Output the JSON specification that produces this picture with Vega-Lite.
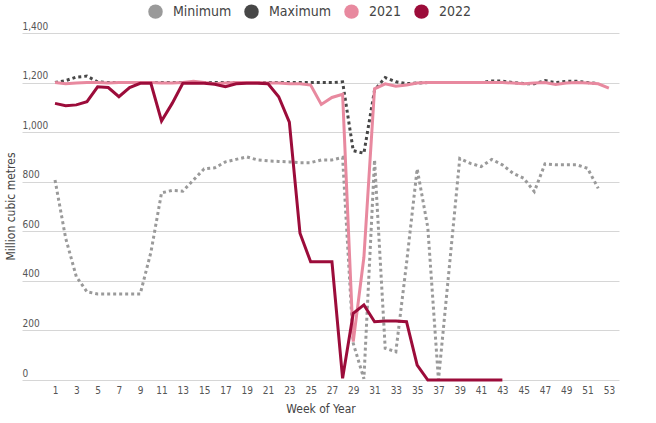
{
  "$schema": "https://vega.github.io/schema/vega-lite/v6.json",
  "width": 597,
  "height": 347,
  "autosize": {"type": "none"},
  "padding": {"left": 22, "top": 33, "right": 37, "bottom": 43},
  "background": "#ffffff",
  "config": {
    "view": {"stroke": null},
    "font": "Liberation Sans Narrow, DejaVu Sans Condensed, Roboto, sans-serif"
  },
  "data": {
    "values": [
      {"week": 1, "series": "Minimum", "value": 807},
      {"week": 2, "series": "Minimum", "value": 572},
      {"week": 3, "series": "Minimum", "value": 417},
      {"week": 4, "series": "Minimum", "value": 356},
      {"week": 5, "series": "Minimum", "value": 347},
      {"week": 6, "series": "Minimum", "value": 347},
      {"week": 7, "series": "Minimum", "value": 347},
      {"week": 8, "series": "Minimum", "value": 347},
      {"week": 9, "series": "Minimum", "value": 347},
      {"week": 10, "series": "Minimum", "value": 515},
      {"week": 11, "series": "Minimum", "value": 755},
      {"week": 12, "series": "Minimum", "value": 765},
      {"week": 13, "series": "Minimum", "value": 762},
      {"week": 14, "series": "Minimum", "value": 807},
      {"week": 15, "series": "Minimum", "value": 852},
      {"week": 16, "series": "Minimum", "value": 856},
      {"week": 17, "series": "Minimum", "value": 880},
      {"week": 18, "series": "Minimum", "value": 890},
      {"week": 19, "series": "Minimum", "value": 900},
      {"week": 20, "series": "Minimum", "value": 888},
      {"week": 21, "series": "Minimum", "value": 884},
      {"week": 22, "series": "Minimum", "value": 882},
      {"week": 23, "series": "Minimum", "value": 880},
      {"week": 24, "series": "Minimum", "value": 877},
      {"week": 25, "series": "Minimum", "value": 877},
      {"week": 26, "series": "Minimum", "value": 888},
      {"week": 27, "series": "Minimum", "value": 888},
      {"week": 28, "series": "Minimum", "value": 898},
      {"week": 29, "series": "Minimum", "value": 148},
      {"week": 30, "series": "Minimum", "value": 5},
      {"week": 31, "series": "Minimum", "value": 888},
      {"week": 32, "series": "Minimum", "value": 128},
      {"week": 33, "series": "Minimum", "value": 114},
      {"week": 34, "series": "Minimum", "value": 470},
      {"week": 35, "series": "Minimum", "value": 852},
      {"week": 36, "series": "Minimum", "value": 615},
      {"week": 37, "series": "Minimum", "value": 0},
      {"week": 38, "series": "Minimum", "value": 447},
      {"week": 39, "series": "Minimum", "value": 894},
      {"week": 40, "series": "Minimum", "value": 874},
      {"week": 41, "series": "Minimum", "value": 861},
      {"week": 42, "series": "Minimum", "value": 890},
      {"week": 43, "series": "Minimum", "value": 868},
      {"week": 44, "series": "Minimum", "value": 834},
      {"week": 45, "series": "Minimum", "value": 814},
      {"week": 46, "series": "Minimum", "value": 760},
      {"week": 47, "series": "Minimum", "value": 872},
      {"week": 48, "series": "Minimum", "value": 868},
      {"week": 49, "series": "Minimum", "value": 868},
      {"week": 50, "series": "Minimum", "value": 868},
      {"week": 51, "series": "Minimum", "value": 854},
      {"week": 52, "series": "Minimum", "value": 773},

      {"week": 1, "series": "Maximum", "value": 1200},
      {"week": 2, "series": "Maximum", "value": 1208},
      {"week": 3, "series": "Maximum", "value": 1222},
      {"week": 4, "series": "Maximum", "value": 1226},
      {"week": 5, "series": "Maximum", "value": 1203},
      {"week": 6, "series": "Maximum", "value": 1200},
      {"week": 7, "series": "Maximum", "value": 1200},
      {"week": 8, "series": "Maximum", "value": 1200},
      {"week": 9, "series": "Maximum", "value": 1200},
      {"week": 10, "series": "Maximum", "value": 1200},
      {"week": 11, "series": "Maximum", "value": 1200},
      {"week": 12, "series": "Maximum", "value": 1200},
      {"week": 13, "series": "Maximum", "value": 1200},
      {"week": 14, "series": "Maximum", "value": 1200},
      {"week": 15, "series": "Maximum", "value": 1200},
      {"week": 16, "series": "Maximum", "value": 1200},
      {"week": 17, "series": "Maximum", "value": 1200},
      {"week": 18, "series": "Maximum", "value": 1200},
      {"week": 19, "series": "Maximum", "value": 1200},
      {"week": 20, "series": "Maximum", "value": 1200},
      {"week": 21, "series": "Maximum", "value": 1200},
      {"week": 22, "series": "Maximum", "value": 1200},
      {"week": 23, "series": "Maximum", "value": 1200},
      {"week": 24, "series": "Maximum", "value": 1200},
      {"week": 25, "series": "Maximum", "value": 1200},
      {"week": 26, "series": "Maximum", "value": 1200},
      {"week": 27, "series": "Maximum", "value": 1200},
      {"week": 28, "series": "Maximum", "value": 1203},
      {"week": 29, "series": "Maximum", "value": 925},
      {"week": 30, "series": "Maximum", "value": 915},
      {"week": 31, "series": "Maximum", "value": 1170},
      {"week": 32, "series": "Maximum", "value": 1220},
      {"week": 33, "series": "Maximum", "value": 1203},
      {"week": 34, "series": "Maximum", "value": 1196},
      {"week": 35, "series": "Maximum", "value": 1198},
      {"week": 36, "series": "Maximum", "value": 1200},
      {"week": 37, "series": "Maximum", "value": 1200},
      {"week": 38, "series": "Maximum", "value": 1200},
      {"week": 39, "series": "Maximum", "value": 1200},
      {"week": 40, "series": "Maximum", "value": 1200},
      {"week": 41, "series": "Maximum", "value": 1200},
      {"week": 42, "series": "Maximum", "value": 1206},
      {"week": 43, "series": "Maximum", "value": 1206},
      {"week": 44, "series": "Maximum", "value": 1200},
      {"week": 45, "series": "Maximum", "value": 1196},
      {"week": 46, "series": "Maximum", "value": 1195},
      {"week": 47, "series": "Maximum", "value": 1208},
      {"week": 48, "series": "Maximum", "value": 1200},
      {"week": 49, "series": "Maximum", "value": 1205},
      {"week": 50, "series": "Maximum", "value": 1205},
      {"week": 51, "series": "Maximum", "value": 1200},
      {"week": 52, "series": "Maximum", "value": 1196},

      {"week": 1, "series": "2021", "value": 1200},
      {"week": 2, "series": "2021", "value": 1195},
      {"week": 3, "series": "2021", "value": 1198},
      {"week": 4, "series": "2021", "value": 1200},
      {"week": 5, "series": "2021", "value": 1200},
      {"week": 6, "series": "2021", "value": 1198},
      {"week": 7, "series": "2021", "value": 1200},
      {"week": 8, "series": "2021", "value": 1200},
      {"week": 9, "series": "2021", "value": 1200},
      {"week": 10, "series": "2021", "value": 1200},
      {"week": 11, "series": "2021", "value": 1198},
      {"week": 12, "series": "2021", "value": 1198},
      {"week": 13, "series": "2021", "value": 1200},
      {"week": 14, "series": "2021", "value": 1205},
      {"week": 15, "series": "2021", "value": 1200},
      {"week": 16, "series": "2021", "value": 1195},
      {"week": 17, "series": "2021", "value": 1198},
      {"week": 18, "series": "2021", "value": 1200},
      {"week": 19, "series": "2021", "value": 1200},
      {"week": 20, "series": "2021", "value": 1200},
      {"week": 21, "series": "2021", "value": 1198},
      {"week": 22, "series": "2021", "value": 1198},
      {"week": 23, "series": "2021", "value": 1195},
      {"week": 24, "series": "2021", "value": 1195},
      {"week": 25, "series": "2021", "value": 1190},
      {"week": 26, "series": "2021", "value": 1112},
      {"week": 27, "series": "2021", "value": 1140},
      {"week": 28, "series": "2021", "value": 1153},
      {"week": 29, "series": "2021", "value": 155},
      {"week": 30, "series": "2021", "value": 495},
      {"week": 31, "series": "2021", "value": 1175},
      {"week": 32, "series": "2021", "value": 1195},
      {"week": 33, "series": "2021", "value": 1185},
      {"week": 34, "series": "2021", "value": 1190},
      {"week": 35, "series": "2021", "value": 1198},
      {"week": 36, "series": "2021", "value": 1200},
      {"week": 37, "series": "2021", "value": 1200},
      {"week": 38, "series": "2021", "value": 1200},
      {"week": 39, "series": "2021", "value": 1200},
      {"week": 40, "series": "2021", "value": 1200},
      {"week": 41, "series": "2021", "value": 1200},
      {"week": 42, "series": "2021", "value": 1200},
      {"week": 43, "series": "2021", "value": 1200},
      {"week": 44, "series": "2021", "value": 1198},
      {"week": 45, "series": "2021", "value": 1195},
      {"week": 46, "series": "2021", "value": 1198},
      {"week": 47, "series": "2021", "value": 1200},
      {"week": 48, "series": "2021", "value": 1192},
      {"week": 49, "series": "2021", "value": 1198},
      {"week": 50, "series": "2021", "value": 1200},
      {"week": 51, "series": "2021", "value": 1198},
      {"week": 52, "series": "2021", "value": 1195},
      {"week": 53, "series": "2021", "value": 1178},

      {"week": 1, "series": "2022", "value": 1116},
      {"week": 2, "series": "2022", "value": 1107},
      {"week": 3, "series": "2022", "value": 1110},
      {"week": 4, "series": "2022", "value": 1123},
      {"week": 5, "series": "2022", "value": 1183},
      {"week": 6, "series": "2022", "value": 1180},
      {"week": 7, "series": "2022", "value": 1143},
      {"week": 8, "series": "2022", "value": 1180},
      {"week": 9, "series": "2022", "value": 1197},
      {"week": 10, "series": "2022", "value": 1197},
      {"week": 11, "series": "2022", "value": 1045},
      {"week": 12, "series": "2022", "value": 1116},
      {"week": 13, "series": "2022", "value": 1197},
      {"week": 14, "series": "2022", "value": 1197},
      {"week": 15, "series": "2022", "value": 1197},
      {"week": 16, "series": "2022", "value": 1193},
      {"week": 17, "series": "2022", "value": 1183},
      {"week": 18, "series": "2022", "value": 1195},
      {"week": 19, "series": "2022", "value": 1197},
      {"week": 20, "series": "2022", "value": 1197},
      {"week": 21, "series": "2022", "value": 1195},
      {"week": 22, "series": "2022", "value": 1143},
      {"week": 23, "series": "2022", "value": 1040},
      {"week": 24, "series": "2022", "value": 592},
      {"week": 25, "series": "2022", "value": 477},
      {"week": 26, "series": "2022", "value": 477},
      {"week": 27, "series": "2022", "value": 477},
      {"week": 28, "series": "2022", "value": 7},
      {"week": 29, "series": "2022", "value": 269},
      {"week": 30, "series": "2022", "value": 303},
      {"week": 31, "series": "2022", "value": 235},
      {"week": 32, "series": "2022", "value": 238},
      {"week": 33, "series": "2022", "value": 238},
      {"week": 34, "series": "2022", "value": 235},
      {"week": 35, "series": "2022", "value": 60},
      {"week": 36, "series": "2022", "value": 0},
      {"week": 37, "series": "2022", "value": 0},
      {"week": 38, "series": "2022", "value": 0},
      {"week": 39, "series": "2022", "value": 0},
      {"week": 40, "series": "2022", "value": 0},
      {"week": 41, "series": "2022", "value": 0},
      {"week": 42, "series": "2022", "value": 0},
      {"week": 43, "series": "2022", "value": 0}
    ]
  },
  "encoding": {
    "x": {
      "field": "week", "type": "quantitative", "title": "Week of Year",
      "scale": {"domain": [-2.1, 53.95], "nice": false, "zero": false},
      "axis": {
        "values": [1, 3, 5, 7, 9, 11, 13, 15, 17, 19, 21, 23, 25, 27, 29, 31, 33, 35, 37, 39, 41, 43, 45, 47, 49, 51, 53],
        "grid": false, "domain": false, "ticks": false, "labelPadding": 5,
        "labelFontSize": 10, "labelColor": "#555555", "labelOverlap": false,
        "titleFontSize": 12, "titleColor": "#444444", "titleFontWeight": "normal",
        "titleY": 28, "titleBaseline": "middle"
      }
    },
    "y": {
      "field": "value", "type": "quantitative", "title": "Million cubic metres",
      "scale": {"domain": [0, 1400], "nice": false},
      "axis": {
        "values": [0, 200, 400, 600, 800, 1000, 1200, 1400], "format": ",d",
        "grid": true, "gridColor": "#d6d6d6", "gridWidth": 1,
        "domain": false, "ticks": false, "tickSize": 0, "labelPadding": 0,
        "labelAlign": "left", "labelBaseline": "bottom", "labelOffset": -2,
        "labelFontSize": 10, "labelColor": "#555555", "labelOverlap": false,
        "titleFontSize": 12, "titleColor": "#444444", "titleFontWeight": "normal",
        "titleX": -12, "titleY": 173, "titleAlign": "center", "titleBaseline": "middle"
      }
    },
    "color": {
      "field": "series", "type": "nominal",
      "scale": {
        "domain": ["Minimum", "Maximum", "2021", "2022"],
        "range": ["#9a9a9a", "#474747", "#e8899f", "#9c0c3a"]
      },
      "legend": {
        "title": null, "orient": "none", "direction": "horizontal",
        "legendX": 126, "legendY": -29,
        "symbolType": "circle", "symbolSize": 210, "symbolStrokeWidth": 0,
        "labelFontSize": 14, "labelColor": "#444444", "labelOffset": 10,
        "columnPadding": 12,
        "encode": {
          "symbols": {
            "update": {
              "fill": {"scale": "color", "field": "value"},
              "strokeWidth": {"value": 0},
              "opacity": {"value": 1}
            }
          }
        }
      }
    }
  },
  "layer": [
    {
      "transform": [{"filter": "datum.series == 'Minimum' || datum.series == 'Maximum'"}],
      "mark": {"type": "line", "strokeWidth": 3, "strokeDash": [3, 3], "strokeCap": "butt"}
    },
    {
      "transform": [{"filter": "datum.series == '2021' || datum.series == '2022'"}],
      "mark": {"type": "line", "strokeWidth": 3, "strokeJoin": "miter"}
    }
  ]
}
